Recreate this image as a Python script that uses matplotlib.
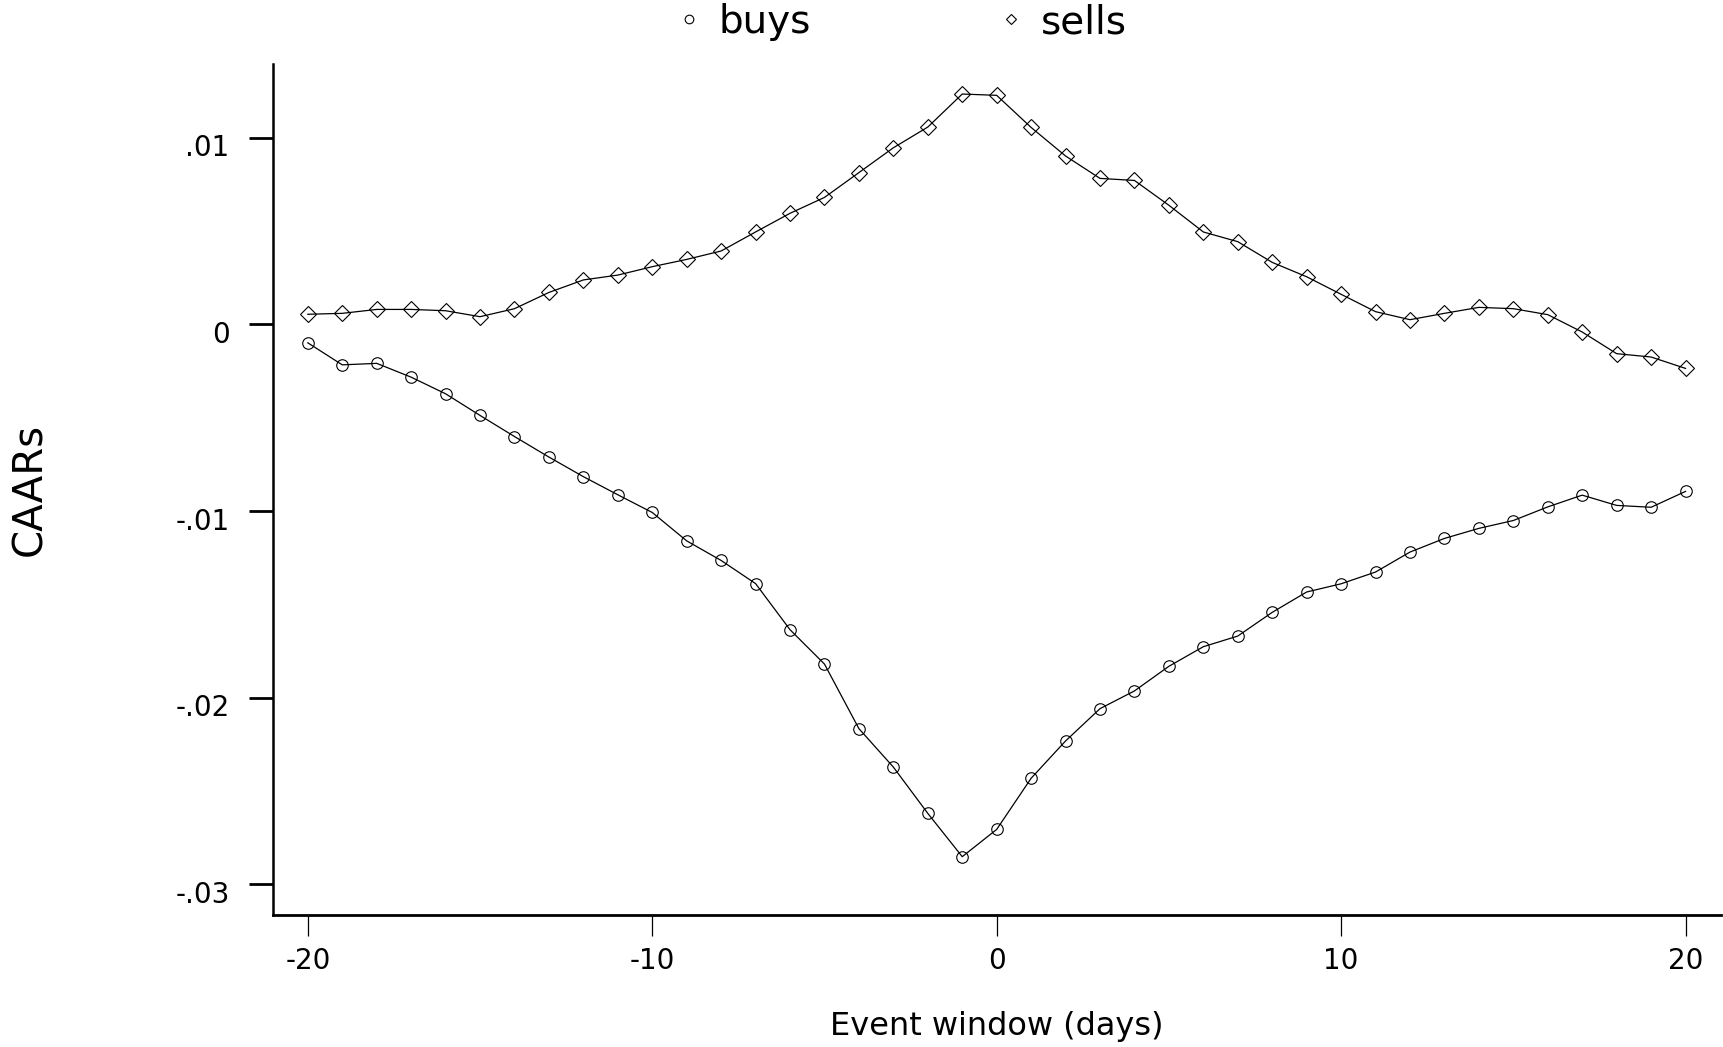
import matplotlib
matplotlib.use("Agg")
import matplotlib.pyplot as plt
from matplotlib.lines import Line2D
from matplotlib.transforms import ScaledTranslation

plt.rcParams['font.family'] = ['DejaVu Sans']

# ---- data ----
days = list(range(-20, 21))
buys = [-0.00099, -0.00217, -0.00209, -0.00283, -0.00372, -0.00488, -0.00601,
        -0.00711, -0.00816, -0.00913, -0.01008, -0.01160, -0.01265, -0.01389,
        -0.01636, -0.01820, -0.02166, -0.02372, -0.02620, -0.02852, -0.02706,
        -0.02432, -0.02232, -0.02059, -0.01964, -0.01832, -0.01727, -0.01670,
        -0.01543, -0.01434, -0.01390, -0.01327, -0.01220, -0.01147, -0.01093,
        -0.01051, -0.00978, -0.00915, -0.00970, -0.00980, -0.00895]
sells = [0.00054, 0.00059, 0.00080, 0.00080, 0.00073, 0.00041, 0.00084,
         0.00171, 0.00238, 0.00264, 0.00309, 0.00348, 0.00393, 0.00495,
         0.00595, 0.00680, 0.00813, 0.00946, 0.01057, 0.01234, 0.01227,
         0.01055, 0.00902, 0.00782, 0.00771, 0.00638, 0.00495, 0.00443,
         0.00332, 0.00255, 0.00161, 0.00068, 0.00025, 0.00059, 0.00091,
         0.00084, 0.00052, -0.00041, -0.00157, -0.00175, -0.00236]
series_labels = ["buys", "sells"]
x_ticks = [-20, -10, 0, 10, 20]
x_ticklabels = ["-20", "-10", "0", "10", "20"]
y_ticks = [0.01, 0.0, -0.01, -0.02, -0.03]
y_ticklabels = [".01", "0", "-.01", "-.02", "-.03"]
x_title = "Event window (days)"
y_title = "CAARs"

# ---- figure ----
W, H, DPI = 1724, 1047, 100
fig = plt.figure(figsize=(W / DPI, H / DPI), dpi=DPI)
fig.patch.set_facecolor("white")
ax = fig.add_axes([272.7 / W, (H - 915) / H, (1721 - 272.7) / W, (915 - 64) / H])

ax.plot(days, buys, color="black", lw=0.9, marker="o", ms=8.3,
        mfc="none", mec="black", mew=0.8)
ax.plot(days, sells, color="black", lw=0.9, marker="D", ms=8.6,
        mfc="none", mec="black", mew=0.8)

ax.set_xlim(-21.02, 21.03)
ax.set_ylim(-0.031645, 0.013949)

for side in ("top", "right"):
    ax.spines[side].set_visible(False)
ax.spines["left"].set_linewidth(1.8)
ax.spines["bottom"].set_linewidth(2.0)

ax.set_xticks(x_ticks)
ax.set_xticklabels(x_ticklabels, fontsize=20)
ax.set_yticks(y_ticks)
ax.set_yticklabels(y_ticklabels, fontsize=20)
ax.tick_params(axis="x", direction="out", length=15, width=0.9, pad=8)
ax.tick_params(axis="y", direction="out", length=17, width=2.0, pad=14)

offset = ScaledTranslation(0, -18.5 / DPI, fig.dpi_scale_trans)
for lab in ax.get_yticklabels():
    lab.set_va("baseline")
    lab.set_transform(lab.get_transform() + offset)

ax.set_xlabel(x_title, fontsize=23, va="center")
ax.xaxis.set_label_coords(0.5, (915 - 1027) / (915 - 64))
ax.set_ylabel(y_title, fontsize=29, va="center")
ax.yaxis.set_label_coords((30 - 272.7) / (1721 - 272.7), 0.5)

handles = [
    Line2D([], [], linestyle="none", marker="o", ms=6.2, mfc="none", mec="black", mew=0.8),
    Line2D([], [], linestyle="none", marker="D", ms=5.4, mfc="none", mec="black", mew=0.8),
]
fig.legend(handles, series_labels, loc="center", bbox_to_anchor=(0.5228, 1 - 22 / H),
           ncol=2, frameon=False, fontsize=28, handlelength=0.7,
           handletextpad=0.42, columnspacing=4.79, borderpad=0, borderaxespad=0)

fig.savefig("out.png", dpi=DPI, facecolor="white")
